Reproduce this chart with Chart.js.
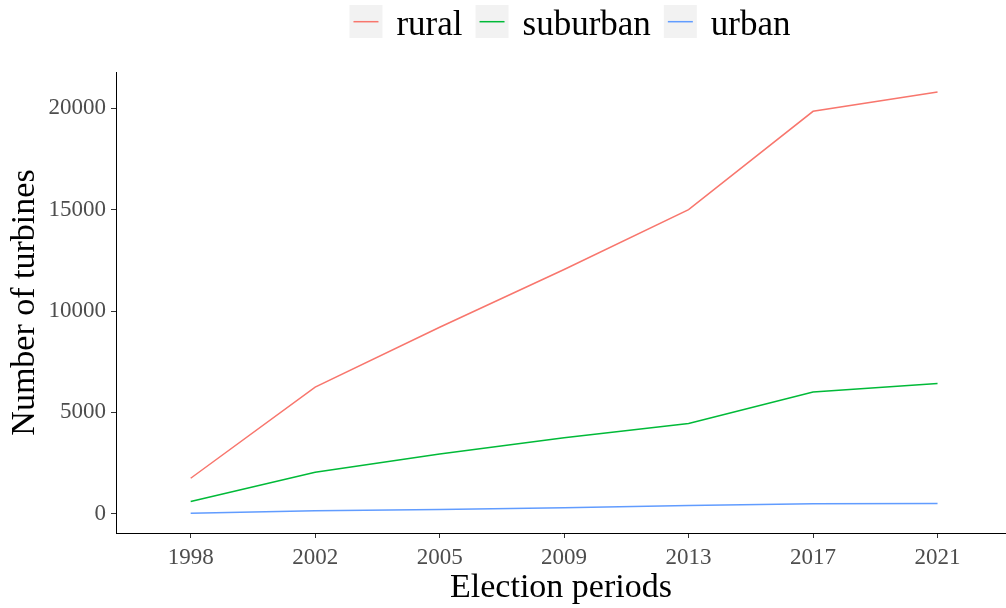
<!DOCTYPE html>
<html>
<head>
<meta charset="utf-8">
<script src="https://cdn.jsdelivr.net/npm/chart.js@4"></script>
<style>
  html, body { margin: 0; padding: 0; background: #fff; }
  #wrap { width: 1006px; height: 608px; position: relative; }
</style>
</head>
<body>
<div id="wrap"><canvas id="myChart"></canvas></div>
<script>
// election periods (x axis categories)
const periods = ['1998', '2002', '2005', '2009', '2013', '2017', '2021'];

// number of turbines per area type
const rural    = [1750, 6250, 9200, 12050, 15000, 19850, 20800];
const suburban = [600, 2050, 2950, 3750, 4450, 6000, 6420];
const urban    = [20, 150, 210, 290, 410, 490, 500];

const yTicks = [0, 5000, 10000, 15000, 20000];

const seriesNames  = ['rural', 'suburban', 'urban'];
const seriesColors = ['#F8766D', '#00BA38', '#619CFF'];

const serif = "'Liberation Serif', 'DejaVu Serif', serif";
Chart.defaults.font.family = serif;

function toPoints(values) {
    return values.map((v, i) => ({ x: i, y: v }));
}

// ggplot style legend with grey key boxes, drawn above the panel
const topLegend = {
    id: 'topLegend',
    afterDraw(chart) {
        const ctx = chart.ctx;
        const box = 33, gapText = 14, gapItem = 13;
        ctx.save();
        ctx.font = '35px ' + serif;
        const widths = chart.data.datasets.map(ds => ctx.measureText(ds.label).width);
        let total = 0;
        widths.forEach((w, i) => { total += box + gapText + w + (i < widths.length - 1 ? gapItem : 0); });
        let x = 570 - total / 2;
        chart.data.datasets.forEach((ds, i) => {
            ctx.fillStyle = '#f2f2f2';
            ctx.fillRect(x, 5, box, box);
            ctx.strokeStyle = ds.borderColor;
            ctx.lineWidth = 1.5;
            ctx.beginPath();
            ctx.moveTo(x + 4, 21.7);
            ctx.lineTo(x + box - 4, 21.7);
            ctx.stroke();
            ctx.fillStyle = '#000';
            ctx.textBaseline = 'alphabetic';
            ctx.textAlign = 'left';
            ctx.fillText(ds.label, x + box + gapText, 35);
            x += box + gapText + widths[i] + gapItem;
        });
        ctx.restore();
    }
};

const myChartRef = document.getElementById('myChart').getContext('2d');

new Chart(myChartRef, {
    type: 'line',
    data: {
        datasets: [
            { label: seriesNames[0], data: toPoints(rural),    borderColor: seriesColors[0] },
            { label: seriesNames[1], data: toPoints(suburban), borderColor: seriesColors[1] },
            { label: seriesNames[2], data: toPoints(urban),    borderColor: seriesColors[2] }
        ]
    },
    options: {
        responsive: true,
        maintainAspectRatio: false,
        animation: false,
        layout: { padding: { top: 72, left: 0, right: 0, bottom: 0 } },
        elements: {
            line: { borderWidth: 1.5, tension: 0, fill: false },
            point: { radius: 0, hoverRadius: 0 }
        },
        plugins: {
            legend: { display: false },
            tooltip: { enabled: false }
        },
        scales: {
            x: {
                type: 'linear',
                min: -0.6,
                max: 6.55,
                afterBuildTicks: scale => { scale.ticks = periods.map((p, i) => ({ value: i })); },
                afterFit: scale => { scale.height = 75; },
                ticks: {
                    callback: v => periods[v],
                    color: '#4d4d4d',
                    font: { size: 23 },
                    padding: 6,
                    maxRotation: 0,
                    autoSkip: false
                },
                grid: { drawOnChartArea: false, drawTicks: true, tickLength: 5, tickColor: '#333333' },
                border: { display: true, color: '#000000', width: 1 },
                title: {
                    display: true,
                    text: 'Election periods',
                    color: '#000000',
                    font: { size: 34 },
                    padding: { top: 0, bottom: 0 }
                }
            },
            y: {
                min: -950,
                max: 21790,
                afterBuildTicks: scale => { scale.ticks = yTicks.map(v => ({ value: v })); },
                afterFit: scale => { scale.width = 116; },
                ticks: {
                    callback: v => String(v),
                    color: '#4d4d4d',
                    font: { size: 23 },
                    padding: 5
                },
                grid: { drawOnChartArea: false, drawTicks: true, tickLength: 5, tickColor: '#333333' },
                border: { display: true, color: '#000000', width: 1 },
                title: {
                    display: true,
                    text: 'Number of turbines',
                    color: '#000000',
                    font: { size: 34 },
                    padding: { top: 5, bottom: 0 }
                }
            }
        }
    },
    plugins: [topLegend]
});
</script>
</body>
</html>
